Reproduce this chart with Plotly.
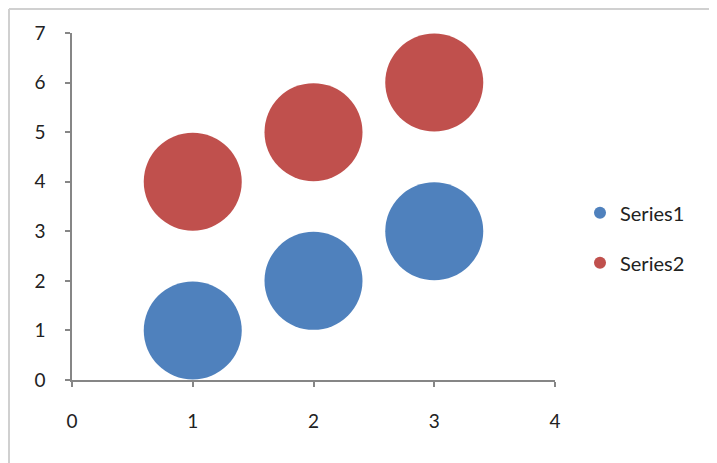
import plotly.graph_objects as go

# 数据
series1_x = [1, 2, 3]
series1_y = [1, 2, 3]
series1_size = [1, 1, 1]
series2_x = [1, 2, 3]
series2_y = [4, 5, 6]
series2_size = [1, 1, 1]

blue = '#4F81BD'
red = '#C0504D'
bubble_px = 98  # 最大气泡直径（像素）
max_size = max(series1_size + series2_size)

fig = go.Figure()
fig.add_trace(go.Scatter(
    x=series1_x, y=series1_y, mode='markers', name='Series1',
    legendgroup='s1', cliponaxis=False,
    marker=dict(size=series1_size, sizemode='diameter', sizeref=max_size / bubble_px,
                color=blue, line=dict(width=0), opacity=1)
))
fig.add_trace(go.Scatter(
    x=series2_x, y=series2_y, mode='markers', name='Series2',
    legendgroup='s2', cliponaxis=False,
    marker=dict(size=series2_size, sizemode='diameter', sizeref=max_size / bubble_px,
                color=red, line=dict(width=0), opacity=1)
))

axis_color = '#868686'
# 页面 body 有 8px 边距，这里整体减去
W, H = 709, 455
L, T = 64, 25
pw, ph = 483, 347
R, B = W - L - pw, H - T - ph

# 外边框（只有上边和左边在画面内）
border = dict(color='#D0D0D0', width=2)
fig.add_shape(type='line', xref='paper', yref='paper',
              x0=(1 - L) / pw, x1=(W + 10 - L) / pw,
              y0=1 + (T - 1) / ph, y1=1 + (T - 1) / ph,
              line=border, layer='below')
fig.add_shape(type='line', xref='paper', yref='paper',
              x0=(1 - L) / pw, x1=(1 - L) / pw,
              y0=-(B + 10) / ph, y1=1 + (T - 1) / ph,
              line=border, layer='below')

fig.update_layout(
    width=W, height=H,
    margin=dict(l=L, r=R, t=T, b=B),
    plot_bgcolor='white', paper_bgcolor='white',
    font=dict(family='Lato, Open Sans, sans-serif', size=19, color='#222222'),
    xaxis=dict(range=[0, 4], dtick=1, showgrid=False, zeroline=False,
               showline=True, linecolor=axis_color, linewidth=1.5,
               ticks='outside', ticklen=5, tickcolor=axis_color, tickwidth=1.5,
               ticklabelstandoff=18, fixedrange=True),
    yaxis=dict(range=[0, 7], dtick=1, showgrid=False, zeroline=False,
               showline=True, linecolor=axis_color, linewidth=1.5,
               ticks='outside', ticklen=5, tickcolor=axis_color, tickwidth=1.5,
               ticklabelstandoff=16, fixedrange=True),
    legend=dict(x=(580 - 72) / pw, y=0.41, xanchor='left', yanchor='middle',
                itemsizing='constant', tracegroupgap=21,
                font=dict(size=20, color='#222222'), bgcolor='rgba(0,0,0,0)'),
    showlegend=True,
)

fig.write_html("out.html")
